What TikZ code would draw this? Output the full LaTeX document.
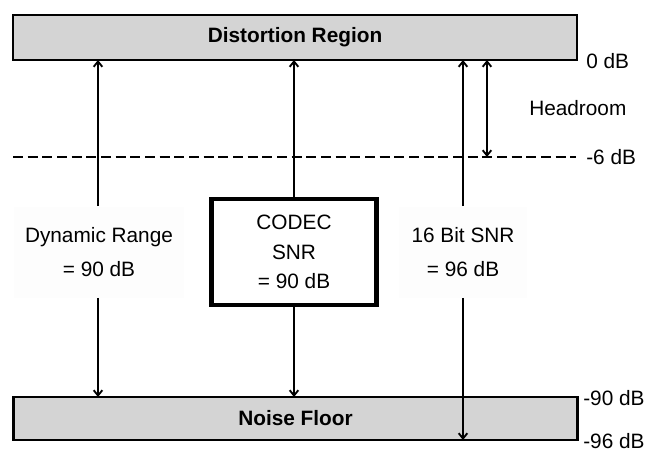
\documentclass[tikz,border=0pt]{standalone}
\usepackage{fontspec}
\setmainfont{Liberation Sans}
\usetikzlibrary{arrows.meta}
\begin{document}
\begin{tikzpicture}[x=0.75pt,y=-0.75pt,
  font=\fontsize{15.6}{19}\selectfont,
  region/.style={draw=black,line width=1.7pt,fill=black!17,inner sep=0pt,
    font=\fontsize{15.6}{19}\selectfont\bfseries},
  codec/.style={draw=black,line width=3.6pt,fill=white,inner sep=0pt,align=center},
  lbl/.style={fill=black!0.8,inner sep=0pt,align=center},
  level/.style={anchor=west,inner sep=0pt},
  tip/.style={Straight Barb[length=4pt,width=6.5pt,line width=1.4pt]},
  arr/.style={line width=1.4pt,-{Straight Barb[length=4pt,width=6.5pt,line width=1.4pt]}},
  darr/.style={line width=1.4pt,{Straight Barb[length=4pt,width=6.5pt,line width=1.4pt]}-{Straight Barb[length=4pt,width=6.5pt,line width=1.4pt]}}
]
\useasboundingbox (0,0) rectangle (648,452);

% Distortion and noise bands
\node[region,minimum width=564*0.75pt,minimum height=45*0.75pt] (dist) at (295,37.5) {Distortion Region};
\node[region,minimum width=564*0.75pt,minimum height=43*0.75pt] (noise) at (295.5,418.5) {Noise Floor};

% Headroom limit
\coordinate (dashL) at (13,157);
\coordinate (dashR) at (576,157);
\draw[line width=1.5pt,dash pattern=on 7.5pt off 3.5pt] (dashL) -- (dashR);

% Level marks on the right
\node[level] (l0) at (586,61) {0 dB};
\node[level] (lh) at (529,108) {Headroom};
\node[level] (l6) at (586,157) {-6 dB};
\node[level] (l90) at (583,398) {-90 dB};
\node[level] (l96) at (583,441) {-96 dB};

% Labels between the bands
\node[lbl,minimum width=170*0.75pt,minimum height=91*0.75pt] (dr) at (99,252) {Dynamic Range\\[6pt]= 90 dB};
\node[codec,minimum width=165*0.75pt,minimum height=106*0.75pt] (cs) at (294,252) {CODEC\\[3pt]SNR\\[3pt]= 90 dB};
\node[lbl,minimum width=128*0.75pt,minimum height=91*0.75pt] (bs) at (463,252) {16 Bit SNR\\[6pt]= 96 dB};

% Arrow end points
\coordinate (drT) at (98,60);
\coordinate (drB) at (98,397);
\coordinate (csT) at (294,60);
\coordinate (csB) at (294,397);
\coordinate (bsT) at (463,60);
\coordinate (bsB) at (463,440);
\coordinate (hrT) at (487,60);
\coordinate (hrB) at (487,157);

% Arrows
\draw[arr] (dr.north -| drT) -- (drT);
\draw[arr] (dr.south -| drB) -- (drB);
\draw[arr] (cs.north) -- (csT);
\draw[arr] (cs.south) -- (csB);
\draw[arr] (bs.north -| bsT) -- (bsT);
\draw[arr] (bs.south -| bsB) -- (bsB);
\draw[darr] (hrT) -- (hrB);
\end{tikzpicture}
\end{document}
